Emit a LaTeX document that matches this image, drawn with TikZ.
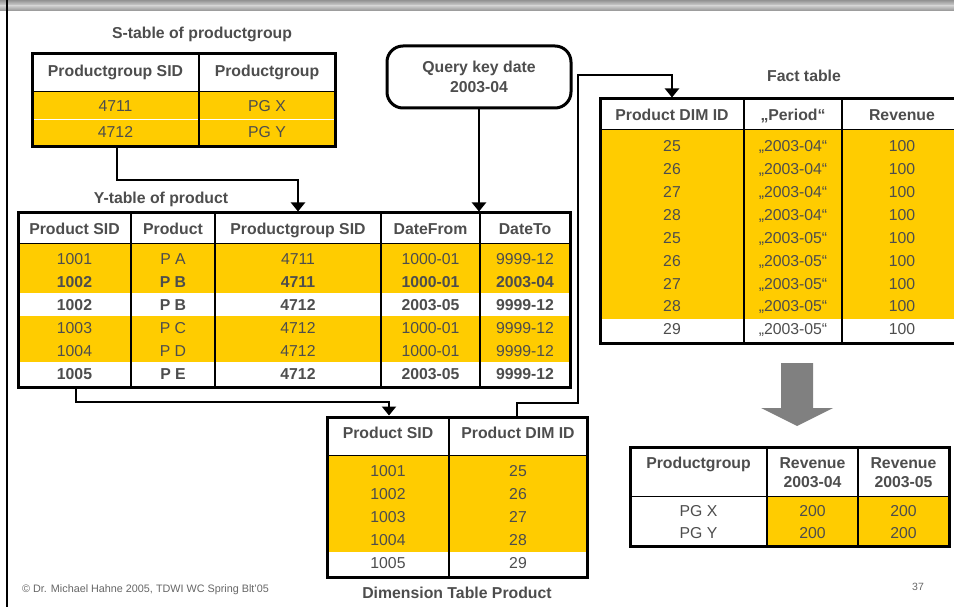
\documentclass[tikz,border=0pt]{standalone}
\usepackage{fontspec}
\setmainfont{Liberation Sans}
\usetikzlibrary{arrows.meta}
\definecolor{hiyellow}{HTML}{FFCC00}
\definecolor{txt}{HTML}{4D4D4D}
\definecolor{bigarrow}{HTML}{808080}
\definecolor{bandlight}{HTML}{D0D0D0}
\definecolor{banddark}{HTML}{929292}
\newcommand\cellfont{\fontsize{15.8}{19.5}\selectfont}
\begin{document}
\begin{tikzpicture}[x=1pt,y=-1pt,
  cell/.style={font=\cellfont, text=txt, inner sep=0pt, text height=11.3pt, text depth=0pt},
  bcell/.style={cell, font=\cellfont\bfseries},
  mcell/.style={font=\cellfont\bfseries, text=txt, inner sep=0pt, align=center},
  tframe/.style={draw=black, line width=3pt, inner sep=0pt},
  divider/.style={line width=1.5pt},
  hsep/.style={line width=1pt},
  conn/.style={line width=2.5pt, -{Triangle[width=14pt,length=9pt]}},
  caption/.style={font=\cellfont\bfseries, text=txt, inner sep=0pt, text height=11.3pt, text depth=0pt}]
\useasboundingbox (0,0) rectangle (954,607);
\clip (0,0) rectangle (954,607);

% page header band (light - dark - light) and left rule
\shade[top color=banddark, bottom color=bandlight] (0,0) rectangle (954,5.5);
\shade[top color=bandlight, bottom color=banddark] (0,5.5) rectangle (954,11);
\draw[line width=2pt] (7,0) -- (7,607);

% ---------- S-table of productgroup ----------
\node[caption] (s-title) at (202,33) {S-table of productgroup};
\fill[hiyellow] (32,92) rectangle (335,147);
\draw[white, line width=1pt] (32,120) -- (335,120);
\draw[hsep] (32,92) -- (335,92);
\draw[divider] (199,54) -- (199,147);
\node[tframe, minimum width=303pt, minimum height=93pt] (stab) at (183.5,100.5) {};
\node[bcell] (s-h1) at (115.5,71) {Productgroup SID};
\node[bcell] (s-h2) at (267,71) {Productgroup};
\node[cell] (s-11) at (115.5,106) {4711};
\node[cell] (s-12) at (267,106) {PG X};
\node[cell] (s-21) at (115.5,132) {4712};
\node[cell] (s-22) at (267,132) {PG Y};

% ---------- query key date ----------
\node[draw=black, line width=3pt, rounded corners=16pt, minimum width=184pt,
      minimum height=62pt, inner sep=0pt, font=\cellfont\bfseries, text=txt,
      align=center] (qbox) at (479,77) {Query key date\\2003-04};

% ---------- Y-table of product ----------
\node[caption] (y-title) at (161,198) {Y-table of product};
\fill[hiyellow] (18,243) rectangle (570,293);
\fill[hiyellow] (18,316) rectangle (570,362);
\draw[hsep] (18,243) -- (570,243);
\foreach \cx in {131,215,381,480} \draw[divider] (\cx,213) -- (\cx,387);
\node[tframe, minimum width=552pt, minimum height=174pt] (ytab) at (294,300) {};
\foreach \cx/\hd [count=\i] in {74.5/Product SID, 173/Product, 298/Productgroup SID,
    430.5/DateFrom, 525/DateTo}
  \node[bcell] (y-h\i) at (\cx,229) {\hd};
\foreach \r/\st/\ca/\cb/\cc/\cd/\ce in {
    1/cell/1001/P A/4711/1000-01/9999-12,
    2/bcell/1002/P B/4711/1000-01/2003-04,
    3/bcell/1002/P B/4712/2003-05/9999-12,
    4/cell/1003/P C/4712/1000-01/9999-12,
    5/cell/1004/P D/4712/1000-01/9999-12,
    6/bcell/1005/P E/4712/2003-05/9999-12}{
  \pgfmathsetmacro\yy{258.5+23*(\r-1)}
  \node[\st] (y-\r-1) at (74.5,\yy) {\ca};
  \node[\st] (y-\r-2) at (173,\yy) {\cb};
  \node[\st] (y-\r-3) at (298,\yy) {\cc};
  \node[\st] (y-\r-4) at (430.5,\yy) {\cd};
  \node[\st] (y-\r-5) at (525,\yy) {\ce};
}

% ---------- Dimension table product ----------
\fill[hiyellow] (327,455) rectangle (587,552);
\draw[hsep] (327,455) -- (587,455);
\draw[divider] (449,417) -- (449,577);
\node[tframe, minimum width=260pt, minimum height=160pt] (dtab) at (457,497) {};
\node[bcell] (d-h1) at (388,433) {Product SID};
\node[bcell] (d-h2) at (518,433) {Product DIM ID};
\foreach \sid/\dim [count=\r] in {1001/25, 1002/26, 1003/27, 1004/28, 1005/29}{
  \pgfmathsetmacro\yy{471+22.9*(\r-1)}
  \node[cell] (d-\r-1) at (388,\yy) {\sid};
  \node[cell] (d-\r-2) at (518,\yy) {\dim};
}
\node[caption] (d-title) at (457,593) {Dimension Table Product};

% ---------- Fact table ----------
\node[caption] (f-title) at (804,76) {Fact table};
\fill[hiyellow] (600,130) rectangle (962,319);
\draw[hsep] (600,130) -- (962,130);
\foreach \cx in {744,842} \draw[divider] (\cx,99) -- (\cx,343);
\node[tframe, minimum width=362pt, minimum height=244pt] (ftab) at (781,221) {};
\node[bcell] (f-h1) at (672,115) {Product DIM ID};
\node[bcell] (f-h2) at (793,115) {„Period“};
\node[bcell] (f-h3) at (902,115) {Revenue};
\foreach \dim/\per [count=\r] in {25/2003-04, 26/2003-04, 27/2003-04, 28/2003-04,
    25/2003-05, 26/2003-05, 27/2003-05, 28/2003-05, 29/2003-05}{
  \pgfmathsetmacro\yy{146+22.9*(\r-1)}
  \node[cell] (f-\r-1) at (672,\yy) {\dim};
  \node[cell] (f-\r-2) at (793,\yy) {„\per“};
  \node[cell] (f-\r-3) at (902,\yy) {100};
}

% ---------- result arrow ----------
\fill[bigarrow] (781,363) -- (813,363) -- (813,408) -- (833,408) -- (797,426)
  -- (761,408) -- (781,408) -- cycle;

% ---------- result table ----------
\fill[hiyellow] (767,496) rectangle (949,546);
\draw[hsep] (630,496) -- (949,496);
\foreach \cx in {767,858} \draw[divider] (\cx,447) -- (\cx,546);
\node[tframe, minimum width=319pt, minimum height=99pt] (rtab) at (789.5,496.5) {};
\node[bcell] (r-h1) at (698.5,463) {Productgroup};
\node[mcell] (r-h2) at (812.5,472.5) {Revenue\\2003-04};
\node[mcell] (r-h3) at (903.5,472.5) {Revenue\\2003-05};
\foreach \pg [count=\r] in {PG X, PG Y}{
  \pgfmathsetmacro\yy{511+22*(\r-1)}
  \node[cell] (r-\r-1) at (698.5,\yy) {\pg};
  \node[cell] (r-\r-2) at (812.5,\yy) {200};
  \node[cell] (r-\r-3) at (903.5,\yy) {200};
}

% ---------- connectors ----------
\coordinate (bendA) at (117,180);
\coordinate (bendB) at (298,180);
\coordinate (bendC) at (76,402);
\coordinate (bendD) at (389,402);
\coordinate (bendE) at (517,403);
\coordinate (bendF) at (578,403);
\coordinate (bendG) at (578,75);
\coordinate (bendH) at (672,75);
\draw[conn] (stab.south -| bendA) |- (bendB) -- (ytab.north -| bendB);
\draw[conn] (qbox.south) -- (ytab.north -| qbox.south);
\draw[conn] (ytab.south -| bendC) |- (bendD) -- (dtab.north -| bendD);
\draw[conn] (dtab.north -| bendE) -- (bendE) -- (bendF) -- (bendG) -- (bendH)
  -- (ftab.north -| bendH);

% ---------- footer ----------
\node[font=\fontsize{10.8}{13}\selectfont, text=gray!80!black, anchor=west, inner sep=0pt]
  (footer) at (22,590) {© Dr. Michael Hahne 2005, TDWI WC Spring Blt'05};
\node[font=\fontsize{10.5}{13}\selectfont, text=gray!80!black, inner sep=0pt]
  (pageno) at (918,587) {37};
\end{tikzpicture}
\end{document}
